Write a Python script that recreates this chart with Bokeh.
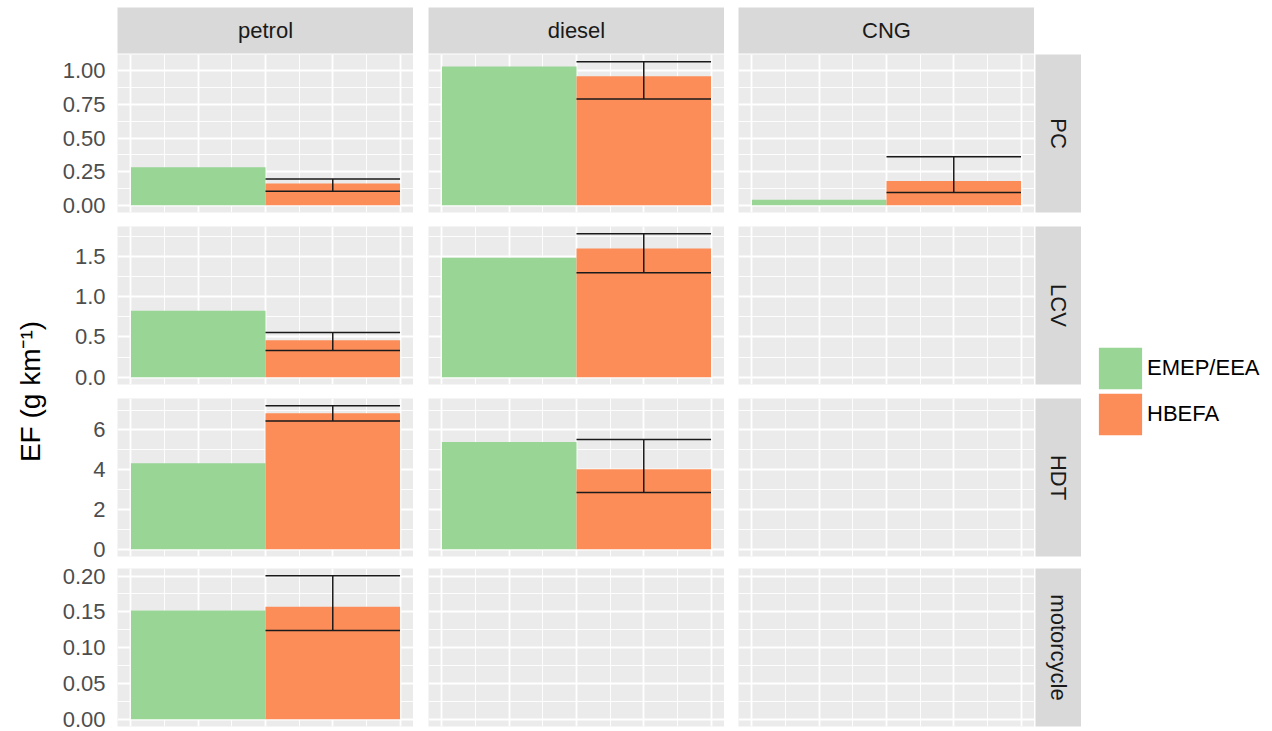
import math
from bokeh.plotting import figure
from bokeh.layouts import row, column
from bokeh.models import (Range1d, FixedTicker, Grid, LinearAxis, PrintfTickFormatter,
                          Legend, LegendItem)
from bokeh.core.properties import value
from bokeh.embed import file_html
from bokeh.resources import INLINE

# ---------------- data ----------------
fuels = ["petrol", "diesel", "CNG"]
vehicles = ["PC", "LCV", "HDT", "motorcycle"]
sources = ["EMEP/EEA", "HBEFA"]
colors = ["#99D594", "#FC8D59"]

# EMEP/EEA emission factors (g/km) per fuel (petrol, diesel, CNG)
emep_PC = [0.283, 1.032, 0.042]
emep_LCV = [0.825, 1.483, None]
emep_HDT = [4.33, 5.40, None]
emep_motorcycle = [0.152, None, None]

# HBEFA emission factors and their ranges
hbefa_PC = [0.162, 0.958, 0.181]
hbefa_LCV = [0.458, 1.596, None]
hbefa_HDT = [6.84, 4.03, None]
hbefa_motorcycle = [0.157, None, None]

hbefa_low_PC = [0.104, 0.789, 0.095]
hbefa_low_LCV = [0.333, 1.296, None]
hbefa_low_HDT = [6.45, 2.85, None]
hbefa_low_motorcycle = [0.124, None, None]

hbefa_high_PC = [0.196, 1.067, 0.360]
hbefa_high_LCV = [0.554, 1.780, None]
hbefa_high_HDT = [7.22, 5.52, None]
hbefa_high_motorcycle = [0.2005, None, None]

# y tick values per row
ticks_PC = [0.0, 0.25, 0.5, 0.75, 1.0]
ticks_LCV = [0.0, 0.5, 1.0, 1.5]
ticks_HDT = [0, 2, 4, 6]
ticks_motorcycle = [0.0, 0.05, 0.10, 0.15, 0.20]
tick_formats = ["%.2f", "%.1f", "%d", "%.2f"]

y_title = "EF (g km\u207b\u00b9)"

emep_rows = [emep_PC, emep_LCV, emep_HDT, emep_motorcycle]
hbefa_rows = [hbefa_PC, hbefa_LCV, hbefa_HDT, hbefa_motorcycle]
low_rows = [hbefa_low_PC, hbefa_low_LCV, hbefa_low_HDT, hbefa_low_motorcycle]
high_rows = [hbefa_high_PC, hbefa_high_LCV, hbefa_high_HDT, hbefa_high_motorcycle]
tick_rows = [ticks_PC, ticks_LCV, ticks_HDT, ticks_motorcycle]

# ---------------- styling / layout ----------------
FONT = "Liberation Sans"
PANEL_BG = "#EBEBEB"
STRIP_BG = "#D9D9D9"
PANEL_W = 296
PANEL_H = 158
LEFT_W = 50
COL_LEFT = [67, 15, 14]
ROW_TOP = [0, 7, 7, 5]
ROW_BOTTOM = [7, 7, 7, 5]
STRIP_SIZE = 46
BAR_W = 0.5
X_MAJOR = [0, 0.25, 0.5, 0.75, 1.0]
X_MINOR = [0.125, 0.375, 0.625, 0.875]


def base_fig(w, h, left=0, right=0, top=0, bottom=0, xr=(0, 1), yr=(0, 1), bg=PANEL_BG):
    p = figure(width=w, height=h, x_range=Range1d(*xr), y_range=Range1d(*yr),
               x_axis_type=None, y_axis_type=None, toolbar_location=None,
               output_backend="svg", min_border_left=left, min_border_right=right,
               min_border_top=top, min_border_bottom=bottom,
               background_fill_color=bg, border_fill_color="white",
               outline_line_color=None)
    return p


# ---------- top strips ----------
strip_figs = []
for j, f in enumerate(fuels):
    s = base_fig(COL_LEFT[j] + PANEL_W, 7 + STRIP_SIZE + 1, left=COL_LEFT[j],
                 top=7, bottom=1, bg=STRIP_BG)
    s.text(x=[0.5], y=[0.5], text=[f], text_align="center", text_baseline="middle",
           text_font=value(FONT), text_font_size="22px", text_color="#1A1A1A")
    strip_figs.append(s)

rows = [row(strip_figs, spacing=0)]

# ---------- panels ----------
for i, vname in enumerate(vehicles):
    vals_all = [v for v in emep_rows[i] + hbefa_rows[i] + high_rows[i] if v is not None]
    ymax = max(vals_all)
    ylo, yhi = -0.05 * ymax, 1.05 * ymax
    ticks = tick_rows[i]
    step = ticks[1] - ticks[0]
    minor = [t + step / 2 for t in ticks] + [ticks[0] - step / 2]
    minor = [m for m in minor if ylo <= m <= yhi]
    hgt = ROW_TOP[i] + PANEL_H + ROW_BOTTOM[i]
    figs = []
    for j, f in enumerate(fuels):
        p = base_fig(COL_LEFT[j] + PANEL_W, hgt, left=COL_LEFT[j], top=ROW_TOP[i],
                     bottom=ROW_BOTTOM[i], xr=(-0.05, 1.05), yr=(ylo, yhi))
        p.add_layout(Grid(dimension=0, ticker=FixedTicker(ticks=X_MAJOR, minor_ticks=X_MINOR),
                          grid_line_color="white", grid_line_width=1.8,
                          minor_grid_line_color="white", minor_grid_line_width=0.9))
        p.add_layout(Grid(dimension=1, ticker=FixedTicker(ticks=ticks, minor_ticks=minor),
                          grid_line_color="white", grid_line_width=1.8,
                          minor_grid_line_color="white", minor_grid_line_width=0.9))
        if j == 0:
            ax = LinearAxis(ticker=FixedTicker(ticks=ticks),
                            formatter=PrintfTickFormatter(format=tick_formats[i]),
                            axis_line_color=None, major_tick_line_color=None,
                            minor_tick_line_color=None, major_tick_out=0, major_tick_in=0,
                            minor_tick_out=0, minor_tick_in=0, major_label_standoff=12,
                            major_label_text_font=FONT, major_label_text_font_size="22px",
                            major_label_text_line_height=1.0,
                            major_label_text_color="#4D4D4D")
            p.add_layout(ax, "left")
        series_vals = [emep_rows[i][j], hbefa_rows[i][j]]
        for k, v in enumerate(series_vals):
            if v is None:
                continue
            xc = BAR_W / 2 + k * BAR_W
            p.vbar(x=[xc], top=[v], bottom=0, width=BAR_W, fill_color=colors[k],
                   line_color=None)
        lo, hi = low_rows[i][j], high_rows[i][j]
        if lo is not None and hi is not None:
            xc = BAR_W / 2 + BAR_W
            x0, x1 = xc - BAR_W / 2, xc + BAR_W / 2
            p.segment(x0=[x0, x0, xc], y0=[lo, hi, lo], x1=[x1, x1, xc], y1=[lo, hi, hi],
                      line_color="#1A1A1A", line_width=1.5)
        figs.append(p)
    st = base_fig(1 + STRIP_SIZE, hgt, left=1, top=ROW_TOP[i], bottom=ROW_BOTTOM[i],
                  bg=STRIP_BG)
    st.text(x=[0.5], y=[0.5], text=[vname], angle=-math.pi / 2, text_align="center",
            text_baseline="middle", text_font=value(FONT), text_font_size="22px",
            text_color="#1A1A1A")
    figs.append(st)
    rows.append(row(figs, spacing=0))

grid_col = column(rows, spacing=0)

TOTAL_H = 7 + STRIP_SIZE + 1 + sum(ROW_TOP) + 4 * PANEL_H + sum(ROW_BOTTOM)
panels_top = 7 + STRIP_SIZE + 1

# ---------- y-axis title ----------
yl = base_fig(LEFT_W, TOTAL_H, xr=(0, LEFT_W), yr=(TOTAL_H, 0), bg="white")
yl.text(x=[30], y=[(panels_top + TOTAL_H - 3) / 2], text=[y_title], angle=math.pi / 2,
        text_align="center", text_baseline="middle", text_font=value(FONT),
        text_font_size="28px", text_color="black")

# ---------- legend (one Legend per key so keys sit 4 px apart) ----------
LEG_W = 1272 - LEFT_W - (COL_LEFT[0] + COL_LEFT[1] + COL_LEFT[2] + 3 * PANEL_W + 1 + STRIP_SIZE)
lg = base_fig(LEG_W, TOTAL_H, bg="white")
KEY_BOX_H = 52
KEY_STEP = 46
for n, (name, c) in enumerate(zip(sources, colors)):
    # zero-height bar: only serves as the legend swatch
    r = lg.vbar(x=[0.5], top=[0], bottom=0, width=0.1, fill_color=c, line_color=None)
    box_top = 342 + n * KEY_STEP
    leg = Legend(items=[LegendItem(label=name, renderers=[r])],
                 location=(12, TOTAL_H - (box_top + KEY_BOX_H)),
                 glyph_width=54, glyph_height=KEY_BOX_H, label_height=KEY_BOX_H,
                 spacing=0, padding=0, margin=0, border_line_color=None,
                 background_fill_alpha=0, label_standoff=0, label_text_font=FONT,
                 label_text_font_size="22px", label_text_color="black")
    lg.add_layout(leg, "center")

layout = row([yl, grid_col, lg], spacing=0)

open("out.html", "w").write(file_html(layout, INLINE))
